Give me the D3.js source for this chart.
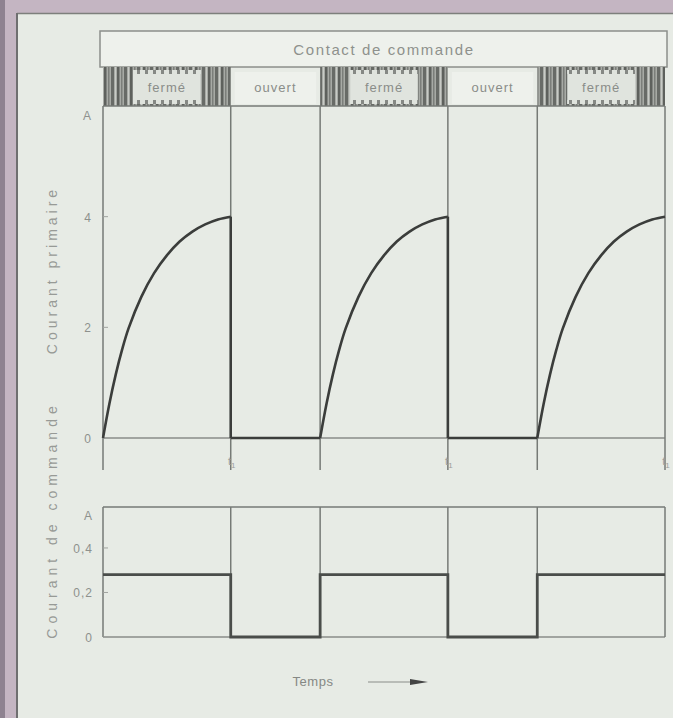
<!DOCTYPE html>
<html>
<head>
<meta charset="utf-8">
<script src="https://cdn.jsdelivr.net/npm/d3@7"></script>
<style>
  html, body { margin: 0; padding: 0; background: #e7ebe5; }
  svg { display: block; }
  text { font-family: "Liberation Sans", Arial, sans-serif; }
</style>
</head>
<body>
<script>
// Switching phases of the control contact (time in arbitrary units)
const phaseStart = [0, 10, 17, 27, 34];
const phaseEnd   = [10, 17, 27, 34, 44];
const phaseLabel = ["fermé", "ouvert", "fermé", "ouvert", "fermé"];

// Primary current rise while the contact is closed (time within phase, amperes)
const riseT = [0, 0.5, 1, 1.5, 2, 3, 4, 5, 6, 7, 8, 9, 10];
const riseI = [0, 0.62, 1.15, 1.6, 1.98, 2.55, 2.98, 3.3, 3.55, 3.73, 3.86, 3.95, 4.0];

// Control current level per phase (amperes)
const controlLevel = [0.28, 0, 0.28, 0, 0.28];

// Axis tick labels
const mainTicks = [0, 2, 4];
const mainTickText = ["0", "2", "4"];
const ctrlTicks = [0, 0.2, 0.4];
const ctrlTickText = ["0", "0,2", "0,4"];
const timeMarks = [10, 27, 44];

const W = 673, H = 718;
const svg = d3.select("body").append("svg").attr("width", W).attr("height", H);

// page edge (mount) and panel background
svg.append("rect").attr("x", 0).attr("y", 0).attr("width", W).attr("height", H).attr("fill", "#c4b5c2");
svg.append("rect").attr("x", 0).attr("y", 0).attr("width", 5).attr("height", H).attr("fill", "#8e8290");
svg.append("rect").attr("x", 17).attr("y", 13).attr("width", W - 17).attr("height", H - 13).attr("fill", "#e7ebe5");
svg.append("line").attr("x1", 17).attr("x2", W).attr("y1", 13.5).attr("y2", 13.5).attr("stroke", "#7d7f7c").attr("stroke-width", 1.5);
svg.append("line").attr("x1", 17).attr("x2", 17).attr("y1", 13).attr("y2", H).attr("stroke", "#6f6f70").attr("stroke-width", 2);

const x = d3.scaleLinear().domain([0, 44]).range([103, 665]);
const yMain = d3.scaleLinear().domain([0, 6]).range([438, 106]);
const yCtrl = d3.scaleLinear().domain([0, 0.584]).range([637, 507]);

const frame = "#767a76", ink = "#3b3d3b", label = "#8e918d";

// stripe pattern for the closed state
const defs = svg.append("defs");
const pat = defs.append("pattern").attr("id", "stripes").attr("patternUnits", "userSpaceOnUse")
  .attr("width", 13).attr("height", 40);
pat.append("rect").attr("width", 13).attr("height", 40).attr("fill", "#a7aaa5");
[[0, 2.5, "#5e615d"], [4, 1.5, "#7b7e7a"], [7, 3, "#686b67"], [11, 1, "#c8cbc6"]].forEach(([px, pw, c]) =>
  pat.append("rect").attr("x", px).attr("width", pw).attr("height", 40).attr("fill", c));

const dots = defs.append("pattern").attr("id", "dots").attr("patternUnits", "userSpaceOnUse")
  .attr("width", 8).attr("height", 4);
dots.append("rect").attr("width", 8).attr("height", 4).attr("fill", "#dfe3dd");
dots.append("rect").attr("x", 1).attr("width", 3).attr("height", 4).attr("fill", "#858884");

// header
svg.append("rect").attr("x", 100).attr("y", 31).attr("width", 567).attr("height", 36)
  .attr("fill", "#eef1ec").attr("stroke", "#8c8f8b").attr("stroke-width", 1.5);
svg.append("text").attr("x", 384).attr("y", 55).attr("text-anchor", "middle")
  .attr("font-size", 15).attr("letter-spacing", 1.6).attr("fill", label).text("Contact de commande");

// state band
const bandTop = 67, bandBot = 106;
const phases = phaseStart.map((s, i) => ({ s, e: phaseEnd[i], label: phaseLabel[i], level: controlLevel[i] }));
const band = svg.append("g");
phases.forEach(p => {
  const x0 = x(p.s), x1 = x(p.e);
  if (p.label === "fermé") {
    band.append("rect").attr("x", x0).attr("y", bandTop).attr("width", x1 - x0).attr("height", bandBot - bandTop)
      .attr("fill", "url(#stripes)");
    const ix0 = x0 + 30, ix1 = x1 - 30;
    band.append("rect").attr("x", ix0).attr("y", bandTop + 3).attr("width", ix1 - ix0).attr("height", bandBot - bandTop - 5)
      .attr("fill", "#e0e4de");
    band.append("rect").attr("x", ix0).attr("y", bandTop + 3).attr("width", ix1 - ix0).attr("height", 4).attr("fill", "url(#dots)");
    band.append("rect").attr("x", ix0).attr("y", bandBot - 6).attr("width", ix1 - ix0).attr("height", 4).attr("fill", "url(#dots)");
  } else {
    band.append("rect").attr("x", x0 + 4).attr("y", bandTop + 5).attr("width", x1 - x0 - 8).attr("height", bandBot - bandTop - 7)
      .attr("fill", "#eef1ec");
  }
  band.append("text").attr("x", (x0 + x1) / 2).attr("y", (bandTop + bandBot) / 2 + 5).attr("text-anchor", "middle")
    .attr("font-size", 13).attr("letter-spacing", 1).attr("fill", "#8a8d89").text(p.label);
});
band.append("line").attr("x1", x(0)).attr("x2", x(44)).attr("y1", bandBot).attr("y2", bandBot)
  .attr("stroke", frame).attr("stroke-width", 1.5);

// main panel frame
const main = svg.append("g");
main.append("line").attr("x1", x(0)).attr("x2", x(44)).attr("y1", yMain(0)).attr("y2", yMain(0))
  .attr("stroke", "#8a8d89").attr("stroke-width", 1.5);
const bounds = [0].concat(phaseEnd);
bounds.forEach(b => {
  main.append("line").attr("x1", x(b)).attr("x2", x(b)).attr("y1", bandBot).attr("y2", 470)
    .attr("stroke", frame).attr("stroke-width", 1.5);
});
mainTicks.forEach((v, i) => {
  main.append("line").attr("x1", x(0)).attr("x2", x(0) + 5).attr("y1", yMain(v)).attr("y2", yMain(v))
    .attr("stroke", "#a0a39f").attr("stroke-width", 1);
  main.append("text").attr("x", 91).attr("y", yMain(v) + 5).attr("text-anchor", "end")
    .attr("font-size", 12).attr("fill", label).text(mainTickText[i]);
});
main.append("text").attr("x", 91).attr("y", 120).attr("text-anchor", "end")
  .attr("font-size", 12).attr("fill", label).text("A");
timeMarks.forEach(t => {
  const tl = main.append("text").attr("x", x(t) + 1).attr("y", 465).attr("text-anchor", "middle")
    .attr("font-size", 11).attr("fill", "#9c9f9b");
  tl.append("tspan").text("t");
  tl.append("tspan").attr("font-size", 8).attr("dy", 3).text("1");
});

// primary current trace: smooth rise while closed, zero while open
const riseLine = d3.line().x(d => x(d[0])).y(d => yMain(d[1])).curve(d3.curveCatmullRom.alpha(0.5));
const flatLine = d3.line().x(d => x(d[0])).y(d => yMain(d[1]));
phases.forEach((p, i) => {
  if (p.label === "fermé") {
    const seg = riseT.map((t, k) => [p.s + t, riseI[k]]);
    main.append("path").attr("d", riseLine(seg)).attr("fill", "none")
      .attr("stroke", ink).attr("stroke-width", 2.6);
    if (i < phases.length - 1) {
      main.append("path").attr("d", flatLine([[p.e, riseI[riseI.length - 1]], [p.e, 0]]))
        .attr("stroke", ink).attr("stroke-width", 2.6);
    }
  } else {
    main.append("path").attr("d", flatLine([[p.s, 0], [p.e, 0]]))
      .attr("fill", "none").attr("stroke", ink).attr("stroke-width", 2.6);
  }
});

// control current panel
const ctrl = svg.append("g");
ctrl.append("line").attr("x1", x(0)).attr("x2", x(44)).attr("y1", yCtrl(0.584)).attr("y2", yCtrl(0.584))
  .attr("stroke", frame).attr("stroke-width", 1.5);
ctrl.append("line").attr("x1", x(0)).attr("x2", x(44)).attr("y1", yCtrl(0)).attr("y2", yCtrl(0))
  .attr("stroke", "#8a8d89").attr("stroke-width", 1.5);
bounds.forEach(b => {
  ctrl.append("line").attr("x1", x(b)).attr("x2", x(b)).attr("y1", yCtrl(0.584)).attr("y2", yCtrl(0))
    .attr("stroke", frame).attr("stroke-width", 1.5);
});
ctrlTicks.forEach((v, i) => {
  ctrl.append("line").attr("x1", x(0)).attr("x2", x(0) + 5).attr("y1", yCtrl(v)).attr("y2", yCtrl(v))
    .attr("stroke", "#a0a39f").attr("stroke-width", 1);
  ctrl.append("text").attr("x", 93).attr("y", yCtrl(v) + 5).attr("text-anchor", "end")
    .attr("font-size", 12).attr("letter-spacing", 1).attr("fill", label).text(ctrlTickText[i]);
});
ctrl.append("text").attr("x", 92).attr("y", 520).attr("text-anchor", "end")
  .attr("font-size", 12).attr("fill", label).text("A");

const ctrlPts = [];
phases.forEach(p => { ctrlPts.push([p.s, p.level]); ctrlPts.push([p.e, p.level]); });
ctrl.append("path").attr("d", d3.line().x(d => x(d[0])).y(d => yCtrl(d[1]))(ctrlPts))
  .attr("fill", "none").attr("stroke", "#4a4d4a").attr("stroke-width", 2.8);

// axis titles
svg.append("text").attr("transform", "translate(57,270) rotate(-90)").attr("text-anchor", "middle")
  .attr("font-size", 14).attr("letter-spacing", 4).attr("fill", "#979a96").text("Courant primaire");
svg.append("text").attr("transform", "translate(57,520) rotate(-90)").attr("text-anchor", "middle")
  .attr("font-size", 14).attr("letter-spacing", 5).attr("fill", "#979a96").text("Courant de commande");

// time arrow
svg.append("text").attr("x", 313).attr("y", 686).attr("text-anchor", "middle")
  .attr("font-size", 13).attr("letter-spacing", 0.5).attr("fill", "#858884").text("Temps");
svg.append("line").attr("x1", 368).attr("x2", 414).attr("y1", 682).attr("y2", 682)
  .attr("stroke", "#8a8d89").attr("stroke-width", 1);
svg.append("path").attr("d", "M410,679 L428,682 L410,685 Z").attr("fill", "#444");
</script>
</body>
</html>
